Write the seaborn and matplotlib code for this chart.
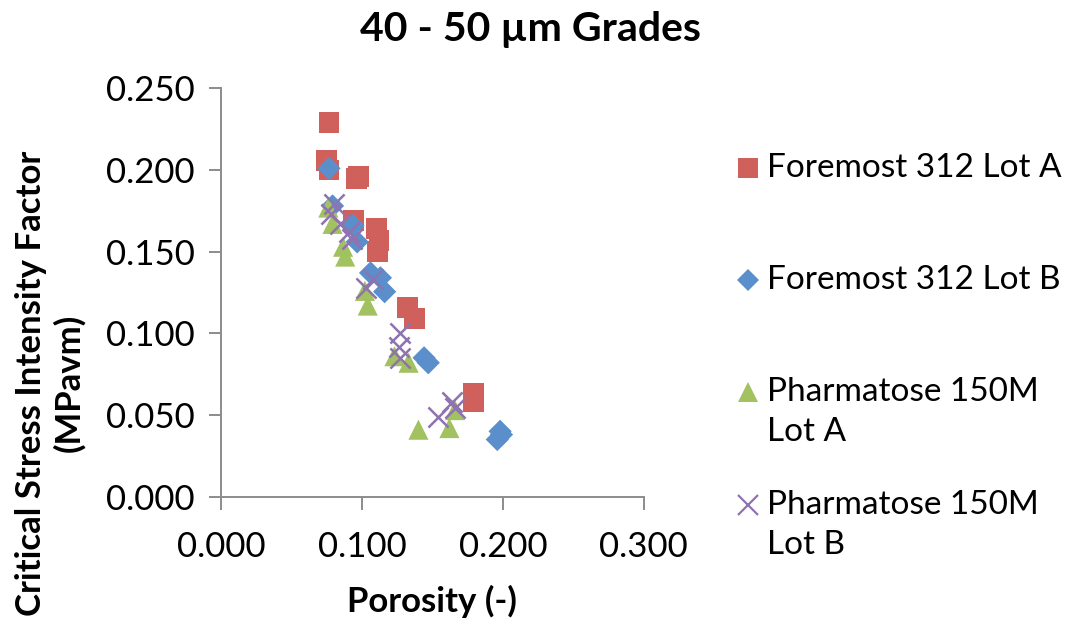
import matplotlib
matplotlib.use("Agg")
import matplotlib.pyplot as plt
from matplotlib.lines import Line2D
import numpy as np
import pandas as pd
import seaborn as sns

# Porosity (-) and critical stress intensity factor (MPa·m^0.5) per lot
foremost_a_x = [0.0765, 0.075, 0.0765, 0.096, 0.0975, 0.094, 0.110, 0.112, 0.111, 0.132, 0.137, 0.179, 0.179]
foremost_a_y = [0.229, 0.206, 0.200, 0.195, 0.196, 0.169, 0.164, 0.157, 0.150, 0.116, 0.109, 0.063, 0.058]

foremost_b_x = [0.0765, 0.079, 0.0935, 0.0965, 0.106, 0.113, 0.116, 0.144, 0.147, 0.198, 0.199, 0.196]
foremost_b_y = [0.201, 0.178, 0.166, 0.156, 0.137, 0.134, 0.1255, 0.085, 0.082, 0.040, 0.038, 0.035]

pharma_a_x = [0.076, 0.079, 0.0865, 0.088, 0.102, 0.104, 0.123, 0.133, 0.140, 0.162, 0.166]
pharma_a_y = [0.177, 0.167, 0.153, 0.147, 0.126, 0.117, 0.086, 0.082, 0.041, 0.042, 0.053]

pharma_b_x = [0.080, 0.078, 0.084, 0.091, 0.093, 0.103, 0.108, 0.127, 0.126, 0.127, 0.154, 0.164, 0.166]
pharma_b_y = [0.179, 0.173, 0.167, 0.162, 0.158, 0.128, 0.133, 0.100, 0.0915, 0.085, 0.049, 0.058, 0.054]

series_names = ["Foremost 312 Lot A", "Foremost 312 Lot B",
                "Pharmatose 150M Lot A", "Pharmatose 150M Lot B"]
legend_labels = ["Foremost 312 Lot A", "Foremost 312 Lot B",
                 "Pharmatose 150M\nLot A", "Pharmatose 150M\nLot B"]

x_ticks = [0.0, 0.1, 0.2, 0.3]
y_ticks = [0.0, 0.05, 0.10, 0.15, 0.20, 0.25]

sns.set_theme(style="white")
plt.rcParams["font.family"] = ["Lato", "DejaVu Sans"]

colors = ["#D0605C", "#5B8FCB", "#A2C160", "#8F73B0"]
markers = ["s", "D", "^", "x"]
sizes = [225, 140, 210, 210]

frames = []
for name, xs, ys in zip(series_names,
                        [foremost_a_x, foremost_b_x, pharma_a_x, pharma_b_x],
                        [foremost_a_y, foremost_b_y, pharma_a_y, pharma_b_y]):
    frames.append(pd.DataFrame({"porosity": xs, "ksc": ys, "series": name}))
df = pd.concat(frames, ignore_index=True)

fig = plt.figure(figsize=(10.67, 6.21), dpi=100)
ax = fig.add_axes([0.2074, 0.2002, 0.3959, 0.6576])

for name, col, mk, sz in zip(series_names, colors, markers, sizes):
    sub = df[df["series"] == name]
    if mk == "x":
        sns.scatterplot(data=sub, x="porosity", y="ksc", ax=ax, color=col,
                        marker=mk, s=sz, linewidth=1.8, legend=False, zorder=3)
    else:
        sns.scatterplot(data=sub, x="porosity", y="ksc", ax=ax, color=col,
                        marker=mk, s=sz, edgecolor="none", legend=False, zorder=3)

ax.set_xlim(0, 0.3)
ax.set_ylim(0, 0.25)
ax.set_xticks(x_ticks)
ax.set_yticks(y_ticks)
ax.set_xticklabels([f"{v:.3f}" for v in x_ticks])
ax.set_yticklabels([f"{v:.3f}" for v in y_ticks])
ax.set_xlabel("")
ax.set_ylabel("")
for side in ["top", "right"]:
    ax.spines[side].set_visible(False)
for side in ["left", "bottom"]:
    ax.spines[side].set_color("#8C8C8C")
    ax.spines[side].set_linewidth(1.4)
ax.tick_params(axis="both", which="both", direction="out", length=9, width=1.4,
               color="#8C8C8C", labelsize=25, labelcolor="black",
               bottom=True, left=True)
ax.tick_params(axis="x", pad=16)
ax.tick_params(axis="y", pad=10)
for lab in ax.get_xticklabels() + ax.get_yticklabels():
    lab.set_clip_on(False)

fig.text(531 / 1067, 1 - 29 / 621, "40 - 50 µm Grades", ha="center", va="center",
         fontsize=29.5, fontweight="bold", color="black")
fig.text(432 / 1067, 1 - 601 / 621, "Porosity (-)", ha="center", va="center",
         fontsize=25, fontweight="bold", color="black")
fig.text(50 / 1067, 1 - 383 / 621, "Critical Stress Intensity Factor\n(MPavm)",
         ha="center", va="center", rotation=90, multialignment="center",
         fontsize=25, fontweight="bold", color="black", linespacing=1.22)

# Legend: marker beside the first line of each label
legend_y = [168, 280, 392, 505]
for lab, col, mk, sz, yy in zip(legend_labels, colors, markers, sizes, legend_y):
    fy = 1 - yy / 621
    if mk == "x":
        h = Line2D([748 / 1067], [fy], marker=mk, color=col, markersize=14,
                   markeredgewidth=1.6, linestyle="none", transform=fig.transFigure)
    else:
        h = Line2D([748 / 1067], [fy], marker=mk, color=col,
                   markersize=14 if mk != "D" else 11, markeredgewidth=0,
                   linestyle="none", transform=fig.transFigure)
    fig.add_artist(h)
    fig.text(767 / 1067, fy + 15 / 621, lab, ha="left", va="top",
             fontsize=24, color="black", linespacing=1.43)

fig.savefig("out.png", dpi=100, facecolor="white")
